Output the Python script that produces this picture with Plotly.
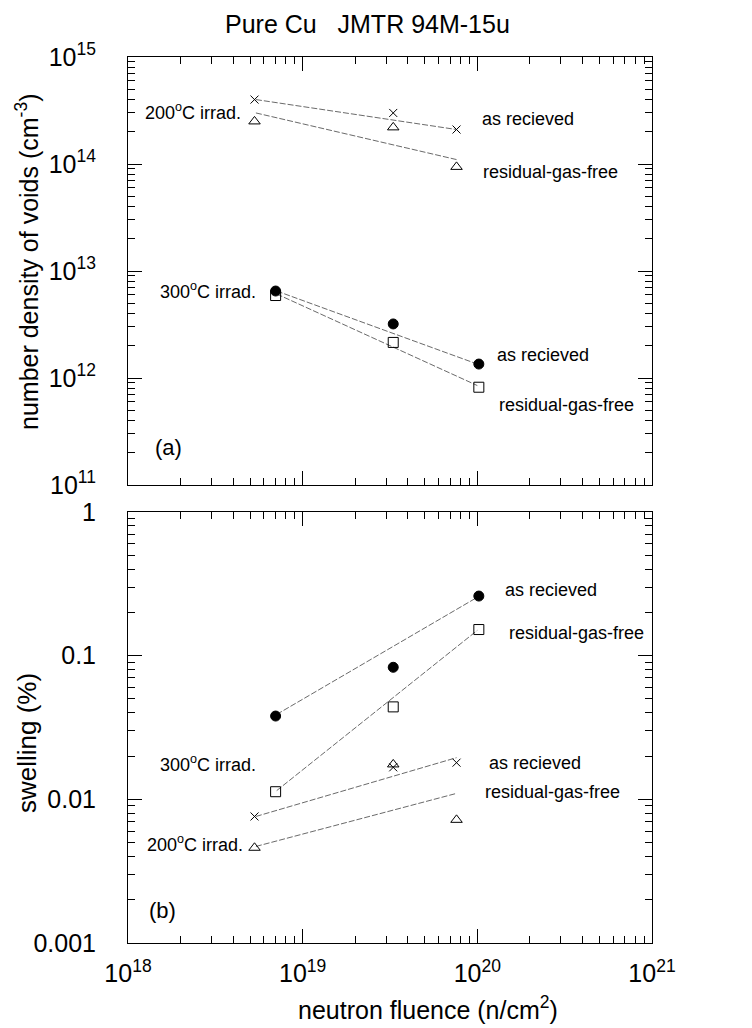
import plotly.graph_objects as go

# ---------------- data ----------------
fluence_200 = [5.3e18, 3.3e19, 7.6e19]
fluence_300 = [7.0e18, 3.3e19, 1.02e20]

density_200_as = [4.0e14, 3.0e14, 2.1e14]
density_200_rgf = [2.5e14, 2.2e14, 9.4e13]
density_300_as = [6.5e12, 3.2e12, 1.35e12]
density_300_rgf = [5.9e12, 2.15e12, 8.2e11]

swell_300_as = [0.038, 0.083, 0.26]
swell_300_rgf = [0.0113, 0.044, 0.152]
swell_200_as = [0.0076, 0.0167, 0.018]
swell_200_rgf = [0.0046, 0.0175, 0.0072]

# fitted trend lines (start, end)
fit_x_200 = [5.4e18, 7.6e19]
fit_x_300 = [7.1e18, 1.0e20]
fit_density_200_as = [4.0e14, 2.1e14]
fit_density_200_rgf = [3.0e14, 1.1e14]
fit_density_300_as = [6.5e12, 1.35e12]
fit_density_300_rgf = [6.1e12, 8.5e11]
fit_swell_300_as = [0.039, 0.255]
fit_swell_300_rgf = [0.0115, 0.15]
fit_swell_200_as = [0.0076, 0.0195]
fit_swell_200_rgf = [0.0047, 0.011]

x_ticks = [1e18, 1e19, 1e20, 1e21]
x_ticktext = ["10<sup>18</sup>", "10<sup>19</sup>", "10<sup>20</sup>", "10<sup>21</sup>"]
y1_ticks = [1e11, 1e12, 1e13, 1e14, 1e15]
y1_ticktext = ["10<sup>11</sup>", "10<sup>12</sup>", "10<sup>13</sup>", "10<sup>14</sup>", "10<sup>15</sup>"]
y2_ticks = [0.001, 0.01, 0.1, 1]
y2_ticktext = ["0.001", "0.01", "0.1", "1"]

FONT = "Liberation Sans, Arial, Helvetica, sans-serif"
LINE_COL = "#6a6a6a"


def minor_vals(lo, hi):
    vals = []
    for e in range(lo, hi):
        for m in range(2, 10):
            vals.append(m * 10.0 ** e)
    return vals


fig = go.Figure()


def line(x, y, xa, ya):
    fig.add_trace(go.Scatter(x=x, y=y, mode="lines", xaxis=xa, yaxis=ya,
                             line=dict(color=LINE_COL, width=1, dash="6px,2px"),
                             showlegend=False, hoverinfo="skip"))


def pts(x, y, xa, ya, sym, size):
    fig.add_trace(go.Scatter(x=x, y=y, mode="markers", xaxis=xa, yaxis=ya,
                             marker=dict(symbol=sym, size=size, color="black",
                                         line=dict(color="black", width=1)),
                             showlegend=False))


# top panel
line(fit_x_200, fit_density_200_as, "x", "y")
line(fit_x_200, fit_density_200_rgf, "x", "y")
line(fit_x_300, fit_density_300_as, "x", "y")
line(fit_x_300, fit_density_300_rgf, "x", "y")
pts(fluence_200, density_200_as, "x", "y", "x-thin-open", 8)
pts(fluence_200, density_200_rgf, "x", "y", "triangle-up-open", 10)
pts(fluence_300, density_300_as, "x", "y", "circle", 10)
pts(fluence_300, density_300_rgf, "x", "y", "square-open", 10)

# bottom panel
line(fit_x_300, fit_swell_300_as, "x2", "y2")
line(fit_x_300, fit_swell_300_rgf, "x2", "y2")
line(fit_x_200, fit_swell_200_as, "x2", "y2")
line(fit_x_200, fit_swell_200_rgf, "x2", "y2")
pts(fluence_300, swell_300_as, "x2", "y2", "circle", 10)
pts(fluence_300, swell_300_rgf, "x2", "y2", "square-open", 10)
pts(fluence_200, swell_200_as, "x2", "y2", "x-thin-open", 8)
pts(fluence_200, swell_200_rgf, "x2", "y2", "triangle-up-open", 10)

axis_common = dict(type="log", showgrid=False, zeroline=False, showline=True,
                   linecolor="black", linewidth=1, mirror="ticks", ticks="inside",
                   ticklen=14, tickwidth=1, tickcolor="black",
                   tickfont=dict(family=FONT, size=25, color="black"))

# plot-area edges in window pixels; the page body adds an 8px margin
OFF = 8
L, R, T, B = 128, 652, 57, 943
WIN_W, WIN_H = 752, 1028
W, H = WIN_W - OFF, WIN_H - OFF
pw, ph = R - L, B - T


def px(x):
    return (x - L) / pw


def py(y):
    return (B - y) / ph


fig.update_layout(
    width=W, height=H,
    margin=dict(l=L - OFF, r=WIN_W - R, t=T - OFF, b=WIN_H - B, pad=0),
    paper_bgcolor="white", plot_bgcolor="white",
    xaxis=dict(axis_common, range=[18, 21], domain=[0, 1], anchor="y",
               tickvals=x_ticks, ticktext=x_ticktext, showticklabels=False,
               minor=dict(tickvals=minor_vals(18, 21), ticks="inside", ticklen=7,
                          tickcolor="black")),
    yaxis=dict(axis_common, range=[11, 15], domain=[py(485), 1], anchor="x",
               tickvals=y1_ticks, ticktext=y1_ticktext, ticklabelstandoff=26,
               minor=dict(tickvals=minor_vals(11, 15), ticks="inside", ticklen=7,
                          tickcolor="black")),
    xaxis2=dict(axis_common, range=[18, 21], domain=[0, 1], anchor="y2",
                tickvals=x_ticks, ticktext=x_ticktext, ticklabelstandoff=8,
                minor=dict(tickvals=minor_vals(18, 21), ticks="inside", ticklen=7,
                           tickcolor="black")),
    yaxis2=dict(axis_common, range=[-3, 0], domain=[0, py(512)], anchor="x2",
                tickvals=y2_ticks, ticktext=y2_ticktext, ticklabelstandoff=26,
                minor=dict(tickvals=minor_vals(-3, 0), ticks="inside", ticklen=7,
                           tickcolor="black")),
)

ann = []


def text(x, y, s, size=18, xanchor="left"):
    ann.append(dict(x=px(x), y=py(y), xref="paper", yref="paper", text=s,
                    showarrow=False, xanchor=xanchor, yanchor="middle",
                    font=dict(family=FONT, size=size, color="black")))


# top panel labels
text(143, 112, "200<sup>o</sup>C irrad.")
text(480, 119, "as recieved")
text(481, 172, "residual-gas-free")
text(158, 290, "300<sup>o</sup>C irrad.")
text(495, 355, "as recieved")
text(497, 405, "residual-gas-free")
text(153, 447, "(a)", size=22)
# bottom panel labels
text(503, 590, "as recieved")
text(507, 633, "residual-gas-free")
text(158, 763, "300<sup>o</sup>C irrad.")
text(487, 763, "as recieved")
text(483, 792, "residual-gas-free")
text(145, 843, "200<sup>o</sup>C irrad.")
text(147, 910, "(b)", size=22)

# title
text(367, 24, "Pure Cu   JMTR 94M-15u", size=25, xanchor="center")
# axis titles
text(428, 1008, "neutron fluence (n/cm<sup>2</sup>)", size=25, xanchor="center")
ann.append(dict(x=px(27), y=py(262), xref="paper", yref="paper",
                text="number density of voids (cm<sup>-3</sup>)", showarrow=False,
                textangle=-90, xanchor="center", yanchor="middle",
                font=dict(family=FONT, size=25, color="black")))
ann.append(dict(x=px(27), y=py(743), xref="paper", yref="paper",
                text="swelling (%)", showarrow=False,
                textangle=-90, xanchor="center", yanchor="middle",
                font=dict(family=FONT, size=26, color="black")))

fig.update_layout(annotations=ann)
fig.write_html("out.html")
